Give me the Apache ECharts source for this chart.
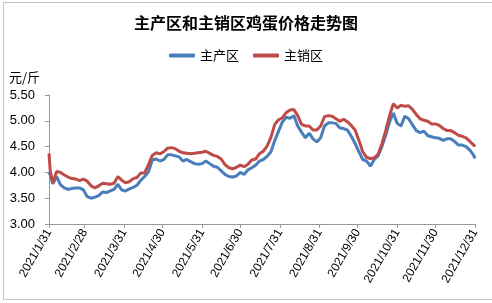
<!DOCTYPE html>
<html><head><meta charset="utf-8">
<script src="https://cdn.jsdelivr.net/npm/echarts@6/dist/echarts.min.js"></script>
<style>html,body{margin:0;padding:0;background:#fff}#c{width:492px;height:303px}</style>
</head><body><div id="c"></div>
<script>
const dates = ['2021-01-31','2021-02-01','2021-02-03','2021-02-06','2021-02-09','2021-02-12','2021-02-15','2021-02-18','2021-02-21','2021-02-24','2021-02-27',
'2021-03-02','2021-03-05','2021-03-08','2021-03-11','2021-03-14','2021-03-17','2021-03-20','2021-03-23','2021-03-26','2021-03-29',
'2021-04-01','2021-04-04','2021-04-07','2021-04-10','2021-04-13','2021-04-16','2021-04-19','2021-04-22','2021-04-25','2021-04-28',
'2021-05-01','2021-05-04','2021-05-07','2021-05-10','2021-05-13','2021-05-16','2021-05-19','2021-05-22','2021-05-25','2021-05-28','2021-05-31',
'2021-06-03','2021-06-06','2021-06-09','2021-06-12','2021-06-15','2021-06-18','2021-06-21','2021-06-24','2021-06-27','2021-06-30',
'2021-07-03','2021-07-06','2021-07-09','2021-07-12','2021-07-15','2021-07-18','2021-07-21','2021-07-24','2021-07-27','2021-07-30',
'2021-08-02','2021-08-05','2021-08-08','2021-08-11','2021-08-14','2021-08-17','2021-08-20','2021-08-23','2021-08-26','2021-08-29',
'2021-09-01','2021-09-04','2021-09-07','2021-09-10','2021-09-13','2021-09-16','2021-09-19','2021-09-22','2021-09-25','2021-09-28',
'2021-10-01','2021-10-04','2021-10-07','2021-10-10','2021-10-13','2021-10-16','2021-10-19','2021-10-22','2021-10-25','2021-10-28','2021-10-31',
'2021-11-03','2021-11-06','2021-11-09','2021-11-12','2021-11-15','2021-11-18','2021-11-21','2021-11-24','2021-11-27','2021-11-30',
'2021-12-03','2021-12-06','2021-12-09','2021-12-12','2021-12-15','2021-12-18','2021-12-21','2021-12-24','2021-12-27','2021-12-30','2021-12-31'];

// 主产区 (blue)
const producing = [4.00,3.95,3.78,3.92,3.76,3.70,3.67,3.69,3.70,3.70,3.66,
3.53,3.50,3.52,3.55,3.62,3.61,3.64,3.67,3.77,3.66,
3.64,3.68,3.71,3.75,3.85,3.92,4.01,4.24,4.26,4.22,
4.25,4.34,4.34,4.32,4.30,4.22,4.25,4.21,4.17,4.16,4.17,
4.22,4.17,4.12,4.10,4.03,3.96,3.92,3.91,3.93,4.00,
3.96,4.05,4.09,4.14,4.22,4.25,4.31,4.40,4.62,4.80,
4.98,5.07,5.05,5.10,4.90,4.78,4.67,4.76,4.65,4.59,
4.67,4.90,4.96,4.96,4.95,4.86,4.85,4.82,4.70,4.56,
4.40,4.25,4.22,4.12,4.25,4.32,4.50,4.72,4.98,5.15,4.95,
4.90,5.09,5.04,4.92,4.81,4.77,4.80,4.71,4.69,4.67,
4.66,4.62,4.65,4.65,4.60,4.53,4.53,4.50,4.43,4.33,4.27];

// 主销区 (red)
const consuming = [4.37,4.02,3.80,4.02,4.00,3.95,3.91,3.88,3.87,3.84,3.87,
3.83,3.74,3.70,3.74,3.79,3.78,3.77,3.79,3.92,3.85,
3.80,3.82,3.88,3.90,3.99,3.99,4.15,4.33,4.38,4.36,
4.40,4.47,4.48,4.46,4.41,4.38,4.37,4.36,4.37,4.38,4.39,
4.41,4.37,4.33,4.31,4.26,4.15,4.09,4.07,4.10,4.14,
4.11,4.16,4.24,4.26,4.36,4.41,4.51,4.68,4.93,5.02,
5.06,5.16,5.21,5.22,5.10,4.93,4.90,4.90,4.82,4.82,
4.90,5.08,5.10,5.09,5.04,4.99,5.03,4.98,4.91,4.82,
4.62,4.40,4.29,4.27,4.28,4.35,4.55,4.81,5.10,5.33,5.25,
5.30,5.28,5.29,5.22,5.12,5.04,5.01,4.99,4.94,4.94,
4.91,4.85,4.81,4.81,4.77,4.72,4.70,4.67,4.60,4.53,4.50];

const tickDates = ['2021-01-31','2021-02-28','2021-03-31','2021-04-30','2021-05-31','2021-06-30','2021-07-31','2021-08-31','2021-09-30','2021-10-31','2021-11-30','2021-12-31'];
const seriesNames = ['主产区','主销区'];

function ts(s){const p=s.split('-');return Date.UTC(+p[0],+p[1]-1,+p[2]);}
const tickTs = tickDates.map(ts);

const chart = echarts.init(document.getElementById('c'), null, {renderer:'canvas'});
chart.setOption({
  animation:false,
  backgroundColor:'#fff',
  title:{text:'主产区和主销区鸡蛋价格走势图',left:'center',top:10,
    textStyle:{fontSize:16,fontWeight:'bold',color:'#000',fontFamily:'Noto Sans CJK SC'}},
  legend:{top:44,left:'center',itemWidth:26,itemHeight:4,itemGap:14,icon:'roundRect',
    textStyle:{fontSize:13,color:'#000',fontFamily:'Noto Sans CJK SC'},
    data:seriesNames},
  graphic:[
    {type:'rect',left:1,top:0,shape:{x:0,y:0,width:489,height:297},silent:true,z:-1,
      style:{fill:'none',stroke:'#c4c4c4',lineWidth:1}},
    {type:'text',left:9,top:71,style:{text:'元/斤',fontSize:13,fill:'#000',fontFamily:'Noto Sans CJK SC'}}],
  grid:{left:49,right:17,top:95,bottom:79,containLabel:false},
  xAxis:{type:'value',min:tickTs[0],max:tickTs[tickTs.length-1],
    axisLine:{lineStyle:{color:'#999',width:1}},
    axisTick:{show:true,length:4,customValues:tickTs,lineStyle:{color:'#999'}},
    axisLabel:{customValues:tickTs,rotate:60,fontSize:12,color:'#000',margin:6,fontFamily:'Liberation Sans',
      formatter:function(v){const d=new Date(v);return d.getUTCFullYear()+'/'+(d.getUTCMonth()+1)+'/'+d.getUTCDate();}},
    splitLine:{show:false}},
  yAxis:{type:'value',min:3,max:5.5,interval:0.5,
    axisLine:{show:true,lineStyle:{color:'#999',width:1}},
    axisTick:{show:true,length:4,lineStyle:{color:'#999'}},
    axisLabel:{fontSize:13,color:'#000',margin:14,fontFamily:'Liberation Sans',formatter:v=>v.toFixed(2)},
    splitLine:{show:false}},
  series:[
    {name:seriesNames[0],type:'line',showSymbol:false,symbol:'none',smooth:false,
      lineStyle:{width:3,color:'#4a7ebb'},itemStyle:{color:'#4a7ebb'},
      data:dates.map((d,i)=>[ts(d),producing[i]])},
    {name:seriesNames[1],type:'line',showSymbol:false,symbol:'none',smooth:false,
      lineStyle:{width:3,color:'#be4b48'},itemStyle:{color:'#be4b48'},
      data:dates.map((d,i)=>[ts(d),consuming[i]])}
  ]
});
</script></body></html>
